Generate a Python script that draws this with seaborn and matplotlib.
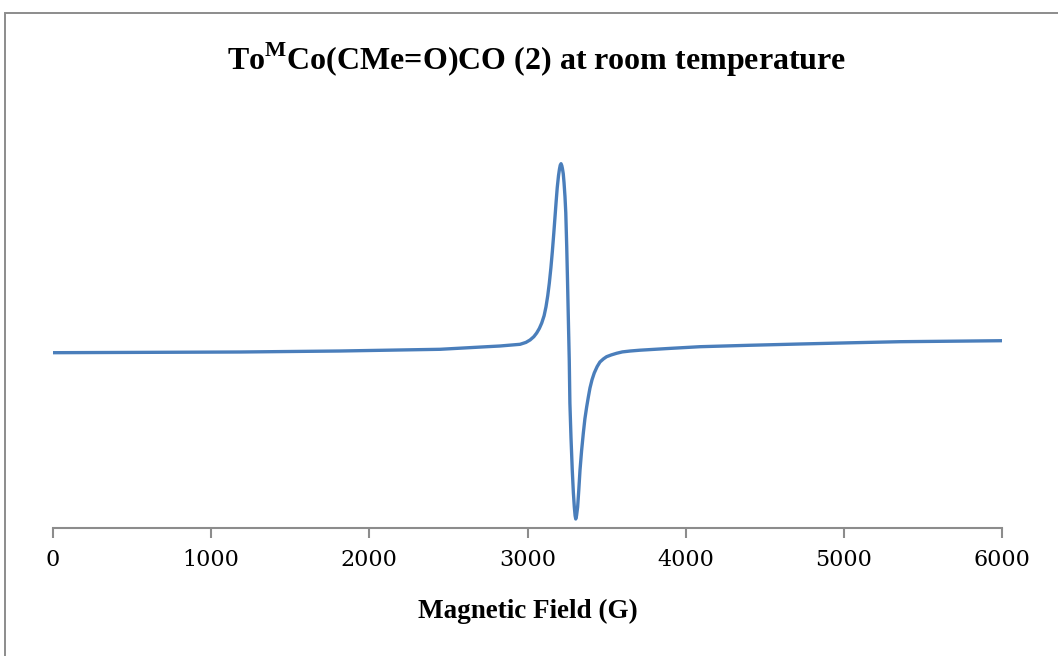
import matplotlib
matplotlib.use("Agg")
import matplotlib.pyplot as plt
import seaborn as sns
import pandas as pd
from matplotlib.patches import Rectangle

# Data (field in G, intensity in arbitrary units)
field = [0, 1182, 1815, 2447, 2744, 2826, 2953, 2990, 3016, 3040, 3058, 3075, 3090, 3105,
         3117, 3128, 3138, 3148, 3157, 3166, 3174, 3181, 3188, 3196, 3202, 3207, 3212,
         3217, 3221, 3226, 3231, 3237, 3242, 3248, 3253, 3258, 3264,
         3268, 3275, 3283, 3290, 3296, 3301, 3305, 3310, 3317, 3324, 3332, 3342, 3353,
         3363, 3374, 3385, 3395, 3408, 3422, 3440, 3458, 3480, 3500, 3530, 3563, 3600,
         3650, 3711, 3900, 4091, 4400, 4723, 5040, 5355, 5680, 6000]
intensity = [0, 7, 17, 34, 60, 67, 84, 103, 127, 160, 197, 243, 297, 370,
             460, 570, 697, 850, 1010, 1190, 1360, 1510, 1650, 1770, 1835, 1875, 1890,
             1870, 1840, 1790, 1700, 1560, 1400, 1060, 720, 357, -73,
             -503, -850, -1173, -1400, -1543, -1630, -1663, -1630, -1543, -1380, -1173, -980, -803,
             -660, -543, -440, -353, -270, -203, -140, -93, -62, -40, -22, -6, 8,
             17, 25, 43, 60, 74, 87, 99, 110, 115, 120]
xticks = [0, 1000, 2000, 3000, 4000, 5000, 6000]
title = "To$^{\\mathbf{M}}$Co(CMe=O)CO (2) at room temperature"
xlabel = "Magnetic Field (G)"

df = pd.DataFrame({"field": field, "intensity": intensity})

sns.set_theme(style="white")
plt.rcParams["font.family"] = ["DejaVu Serif"]
plt.rcParams["mathtext.fontset"] = "custom"
plt.rcParams["mathtext.bf"] = "Liberation Serif:bold"
plt.rcParams["mathtext.rm"] = "Liberation Serif:bold"
plt.rcParams["text.color"] = "black"

W, H = 1058, 656
fig = plt.figure(figsize=(W / 100, H / 100), dpi=100)
fig.patch.set_facecolor("white")

# figure border (left & top visible, cropped on right/bottom)
fig.patches.append(Rectangle((5 / W, -0.1), 1.2, 1 - 13 / H + 0.1,
                             transform=fig.transFigure, fill=False,
                             edgecolor="#8c8c8c", linewidth=1.4, zorder=0))

ax = fig.add_axes([53 / W, 1 - 528 / H, (1002 - 53) / W, (528 - 100) / H])
sns.lineplot(data=df, x="field", y="intensity", ax=ax, sort=False,
             estimator=None, color="#4A7EBB", linewidth=2.4)

ax.set_xlim(0, 6000)
ax.set_ylim(-1753, 2527)
ax.set_xticks(xticks)
ax.set_xticklabels([str(t) for t in xticks], fontfamily="DejaVu Serif",
                   fontsize=16, color="black")
ax.set_yticks([])
ax.set_ylabel("")
ax.set_xlabel(xlabel, fontfamily="Liberation Serif", fontweight="bold",
              fontsize=19.5, labelpad=20, color="black")
for s in ["top", "right", "left"]:
    ax.spines[s].set_visible(False)
ax.spines["bottom"].set_color("#8c8c8c")
ax.spines["bottom"].set_linewidth(1.5)
ax.tick_params(axis="x", direction="out", length=7, width=1.5, color="#8c8c8c",
               pad=8, bottom=True, labelcolor="black")
ax.set_facecolor("none")

fig.text(537 / W, 1 - 60 / H, title, ha="center", va="center", color="black",
         fontfamily="Liberation Serif", fontweight="bold", fontsize=23)

fig.savefig("out.png", dpi=100, facecolor="white")
